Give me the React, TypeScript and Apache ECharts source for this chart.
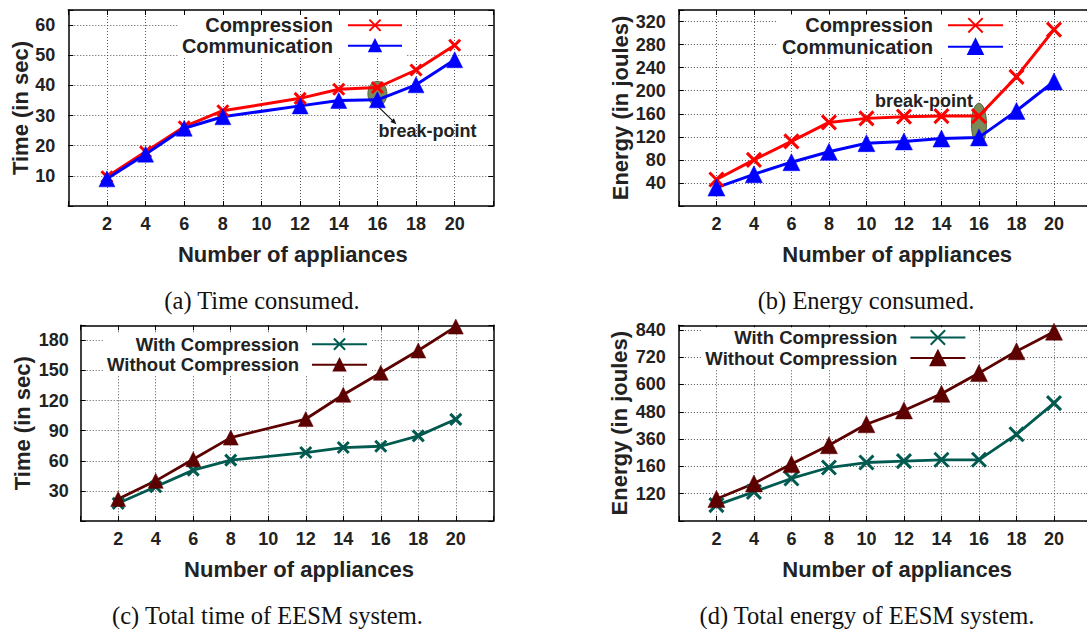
import React, { useEffect, useRef } from "react";
import * as echarts from "echarts";

// ---------- data ----------
const timeX = [2, 4, 6, 8, 12, 14, 16, 18, 20];
const energyX = [2, 4, 6, 8, 10, 12, 14, 16, 18, 20];

const timeCompression = [9.7, 18.0, 26.3, 31.6, 35.7, 38.7, 39.3, 45.1, 53.3];
const timeCommunication = [9.0, 17.2, 25.8, 29.6, 33.2, 35.0, 35.2, 40.2, 48.5];

const energyCompression = [46, 80, 112, 145, 152, 155, 156, 156, 224, 306];
const energyCommunication = [32, 55, 76, 94, 109, 112, 117, 119, 165, 216];

const totalTimeWith = [17.6, 34.1, 50.7, 60.6, 68.2, 73.2, 74.5, 84.8, 101.3];
const totalTimeWithout = [21.9, 40.0, 61.6, 83.1, 101.6, 125.8, 147.7, 169.9, 193.7];

const totalEnergyWith = [70, 128, 187, 235, 257, 263, 269, 269, 381, 518];
const totalEnergyWithout = [97, 165, 250, 333, 425, 486, 559, 650, 746, 832];

const totalEnergyTickValues = [120, 240, 360, 480, 600, 720, 840];
const totalEnergyTickLabels = ["120", "160", "360", "480", "600", "720", "840"];

const breakPointTime = [16, 37.2];
const breakPointEnergy = [16, 142];

const topNames = ["Compression", "Communication"];
const bottomNames = ["With Compression", "Without Compression"];
const xName = "Number of appliances";
const yNames = ["Time (in sec)", "Energy (in joules)", "Time (in sec)", "Energy (in joules)"];
const captions = [
  "(a) Time consumed.",
  "(b) Energy consumed.",
  "(c) Total time of EESM system.",
  "(d) Total energy of EESM system.",
];

// ---------- styles ----------
const FONT = "Liberation Sans, Arial, Helvetica, sans-serif";
const SERIF = "Liberation Serif, DejaVu Serif, serif";
const TXT = "#222";
const X_SYMBOL = "path://M0,0L10,10M10,0L0,10";

const pair = (xs: number[], ys: number[]) => xs.map((x, i) => [x, ys[i]]);

const frameLine = { show: true, onZero: false, lineStyle: { color: "#000", width: 1.5 } };
const innerTick = { show: true, inside: true, length: 5, lineStyle: { color: "#000", width: 1 } };
const gridLine = {
  show: true,
  showMinLine: false,
  showMaxLine: false,
  lineStyle: { color: "#555", width: 1, type: [1, 2] },
};

function mainX(gridIndex: number) {
  return {
    type: "value",
    gridIndex,
    position: "bottom",
    min: 0,
    max: 22,
    interval: 2,
    name: xName,
    nameLocation: "middle",
    nameGap: 37,
    nameTextStyle: { fontSize: 22, fontWeight: "bold", color: TXT, fontFamily: FONT, padding: [0, 0, 0, 24] },
    axisLine: frameLine,
    axisTick: innerTick,
    axisLabel: {
      margin: 9,
      fontSize: 18,
      fontWeight: "bold",
      color: TXT,
      fontFamily: FONT,
      formatter: (v: number) => (v > 0 && v < 22 ? String(v) : ""),
    },
    splitLine: gridLine,
  };
}
function mirrorX(gridIndex: number) {
  return {
    type: "value",
    gridIndex,
    position: "top",
    min: 0,
    max: 22,
    interval: 2,
    axisLine: frameLine,
    axisTick: innerTick,
    axisLabel: { show: false },
    splitLine: { show: false },
  };
}
function mainY(gridIndex: number, max: number, interval: number, labelMax: number, nameGap: number, margin: number, fmt?: (v: number) => string) {
  return {
    type: "value",
    gridIndex,
    position: "left",
    min: 0,
    max,
    interval,
    name: yNames[gridIndex],
    nameLocation: "middle",
    nameRotate: 90,
    nameGap,
    nameTextStyle: { fontSize: 22, fontWeight: "bold", color: TXT, fontFamily: FONT },
    axisLine: frameLine,
    axisTick: innerTick,
    axisLabel: {
      margin,
      fontSize: 18,
      fontWeight: "bold",
      color: TXT,
      fontFamily: FONT,
      formatter:
        fmt || ((v: number) => (v > 0 && v <= labelMax && v % interval === 0 ? String(v) : "")),
    },
    splitLine: gridLine,
  };
}
function mirrorY(gridIndex: number, max: number, interval: number) {
  return {
    type: "value",
    gridIndex,
    position: "right",
    min: 0,
    max,
    interval,
    axisLine: frameLine,
    axisTick: innerTick,
    axisLabel: { show: false },
    splitLine: { show: false },
  };
}

function lineSeries(
  name: string,
  data: number[][],
  axis: number,
  color: string,
  isCross: boolean,
  size: number,
  width: number
) {
  return {
    type: "line",
    name,
    data,
    xAxisIndex: axis,
    yAxisIndex: axis,
    symbol: isCross ? X_SYMBOL : "triangle",
    symbolSize: size,
    showAllSymbol: true,
    lineStyle: { color, width },
    itemStyle: isCross
      ? { color, borderColor: color, borderWidth: 3 }
      : { color, borderColor: color, borderWidth: 0.5 },
    z: 3,
    silent: true,
  };
}

function legend(names: string[], right: number, top: number, fontSize: number, lineHeight: number, itemWidth: number, itemHeight: number, gapPad: number) {
  return {
    orient: "vertical",
    align: "right",
    right,
    top,
    itemWidth,
    itemHeight,
    itemGap: 0,
    padding: [0, 4, 0, 4],
    backgroundColor: "#fff",
    selectedMode: false,
    data: names,
    textStyle: {
      fontSize,
      fontWeight: "bold",
      color: TXT,
      fontFamily: FONT,
      lineHeight,
      padding: [0, gapPad, 0, 0],
    },
  };
}

export default function App() {
  const ref = useRef<HTMLDivElement>(null);
  useEffect(() => {
    if (!ref.current) return;
    const chart = echarts.init(ref.current, null, { renderer: "svg" });

    const energyFmt = (v: number) => {
      const i = totalEnergyTickValues.indexOf(v);
      return i >= 0 ? totalEnergyTickLabels[i] : "";
    };

    const captionText = (i: number, x: number, y: number) => ({
      type: "text",
      x,
      y,
      style: { text: captions[i], fontSize: 24.5, fontFamily: SERIF, fill: "#111", align: "center", verticalAlign: "middle" },
    });

    const option: any = {
      animation: false,
      backgroundColor: "#fff",
      grid: [
        { left: 68.3, top: 10, width: 425, height: 196, outerBoundsMode: "none" },
        { left: 678.9, top: 10, width: 412.6, height: 196, outerBoundsMode: "none" },
        { left: 80.7, top: 325.3, width: 412.6, height: 195.7, outerBoundsMode: "none" },
        { left: 678.9, top: 325.3, width: 412.6, height: 195.7, outerBoundsMode: "none" },
      ],
      xAxis: [mainX(0), mainX(1), mainX(2), mainX(3), mirrorX(0), mirrorX(1), mirrorX(2), mirrorX(3)],
      yAxis: [
        mainY(0, 65, 10, 60, 34, 13),
        mainY(1, 340, 40, 320, 46, 13),
        mainY(2, 195, 30, 180, 47, 12),
        mainY(3, 860, 120, 840, 48, 13, energyFmt),
        mirrorY(0, 65, 10),
        mirrorY(1, 340, 40),
        mirrorY(2, 195, 30),
        mirrorY(3, 860, 120),
      ],
      legend: [
        legend(topNames, 680, 15, 20, 20.5, 54, 14, 10),
        legend(topNames, 79, 14.6, 20, 21.4, 55, 18, 10),
        legend(bottomNames, 715, 333.8, 18.5, 20.7, 55, 14, 8),
        legend(bottomNames, 116.6, 327.2, 18.5, 20.6, 55, 18, 8),
      ],
      series: [
        lineSeries(topNames[0], pair(timeX, timeCompression), 0, "#ff0000", true, 11, 3),
        lineSeries(topNames[1], pair(timeX, timeCommunication), 0, "#0000ff", false, 16, 3),
        lineSeries(topNames[0], pair(energyX, energyCompression), 1, "#ff0000", true, 14, 3),
        lineSeries(topNames[1], pair(energyX, energyCommunication), 1, "#0000ff", false, 17, 3),
        lineSeries(bottomNames[0], pair(timeX, totalTimeWith), 2, "#005a50", true, 11, 2.8),
        lineSeries(bottomNames[1], pair(timeX, totalTimeWithout), 2, "#5c0000", false, 15, 2.8),
        lineSeries(bottomNames[0], pair(energyX, totalEnergyWith), 3, "#005a50", true, 14, 2.8),
        lineSeries(bottomNames[1], pair(energyX, totalEnergyWithout), 3, "#5c0000", false, 17, 2.8),
        {
          type: "custom",
          xAxisIndex: 0,
          yAxisIndex: 0,
          z: 1,
          silent: true,
          data: [breakPointTime],
          renderItem: (_p: any, api: any) => {
            const [cx, cy] = api.coord([api.value(0), api.value(1)]);
            return {
              type: "group",
              children: [
                { type: "ellipse", shape: { cx, cy, rx: 9.5, ry: 12.5 }, style: { fill: "#7b8a59", stroke: "#55633a", lineWidth: 1 } },
                { type: "line", shape: { x1: cx, y1: cy + 12, x2: cx + 17, y2: cy + 28.5 }, style: { stroke: "#111", lineWidth: 1.2 } },
                {
                  type: "polygon",
                  shape: { points: [[cx + 19, cy + 30.5], [cx + 13, cy + 28.1], [cx + 16.5, cy + 24.5]] },
                  style: { fill: "#111" },
                },
                {
                  type: "text",
                  x: cx + 1,
                  y: cy + 37,
                  style: { text: "break-point", fontSize: 18, fontWeight: "bold", fontFamily: FONT, fill: TXT, align: "left", verticalAlign: "middle" },
                },
              ],
            };
          },
        },
        {
          type: "custom",
          xAxisIndex: 1,
          yAxisIndex: 1,
          z: 1,
          silent: true,
          data: [breakPointEnergy],
          renderItem: (_p: any, api: any) => {
            const [cx, cy] = api.coord([api.value(0), api.value(1)]);
            return {
              type: "group",
              children: [
                { type: "ellipse", shape: { cx, cy, rx: 7.5, ry: 21 }, style: { fill: "#7b8a59", stroke: "#55633a", lineWidth: 1 } },
                {
                  type: "text",
                  x: cx - 6,
                  y: cy - 23,
                  style: { text: "break-point", fontSize: 18, fontWeight: "bold", fontFamily: FONT, fill: TXT, align: "right", verticalAlign: "middle" },
                },
              ],
            };
          },
        },
      ],
      graphic: [
        captionText(0, 262, 300),
        captionText(1, 866, 300),
        captionText(2, 267.5, 615),
        captionText(3, 867, 615),
      ],
    };

    chart.setOption(option);
    return () => chart.dispose();
  }, []);

  return (
    <div
      ref={ref}
      style={{ position: "fixed", left: 0, top: 0, width: 1087, height: 629, background: "#fff" }}
    />
  );
}
